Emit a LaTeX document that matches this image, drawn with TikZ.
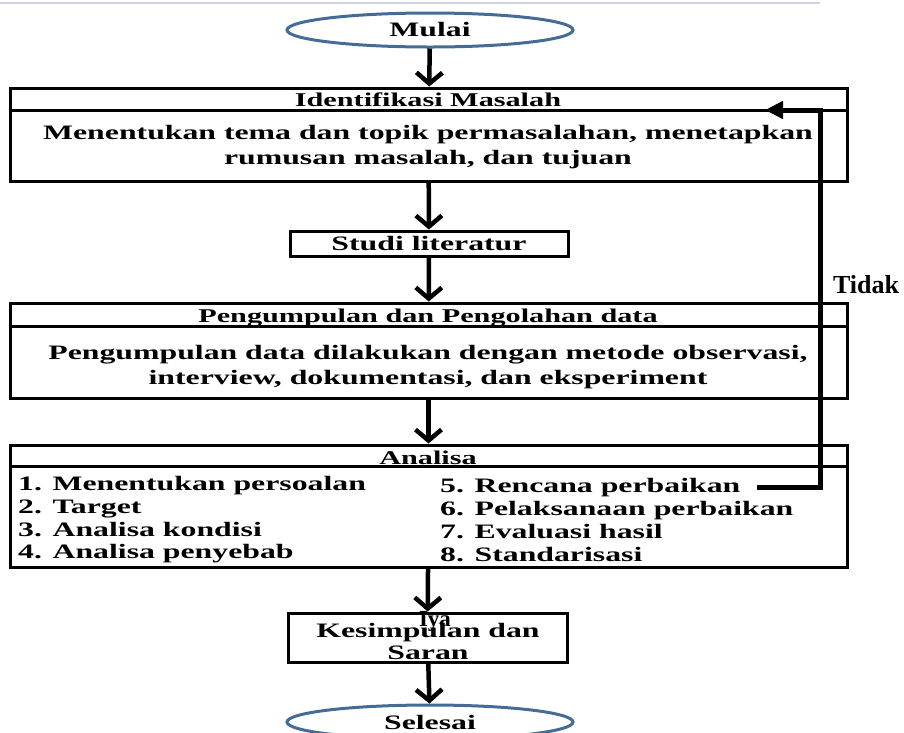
\documentclass[tikz,border=0pt]{standalone}
\usepackage{fontspec}
\setmainfont{Liberation Serif}
\newfontfamily\flowfont[FakeStretch=1.55]{Liberation Serif}
\usetikzlibrary{arrows.meta,shapes.geometric}
\definecolor{termblue}{RGB}{68,108,150}
\definecolor{edgegray}{RGB}{208,212,222}
\begin{document}
\begin{tikzpicture}[x=1pt,y=-1pt]
		\tikzset{box/.style = {draw, rectangle, line width=3pt, inner sep=0pt},
			term/.style = {draw=termblue, ellipse, line width=3pt, inner sep=0pt, minimum width=286pt, minimum height=34pt, font=\flowfont\bfseries\fontsize{20.5}{22}\selectfont},
			txt/.style = {inner sep=0pt, font=\flowfont\bfseries\fontsize{20.5}{25}\selectfont},
			head/.style = {inner sep=0pt, anchor=base, font=\flowfont\bfseries\fontsize{19.5}{22}\selectfont},
			list/.style = {txt, align=left, anchor=west, font=\flowfont\bfseries\fontsize{20.5}{22.7}\selectfont},
			flow/.style = {line width=4.5pt, -{Straight Barb[length=11pt,width=26pt,line width=4.5pt]}},
			feedback/.style = {line width=5pt, -{Triangle[length=18pt,width=17pt]}}}
		\useasboundingbox (0,0) rectangle (904,732);
		\draw[edgegray, line width=1.5pt] (0,3) -- (820,3);

		\node[term] (mulai) at (430,30) {Mulai};

		\node[box, minimum width=837pt, minimum height=93pt] (idm) at (428.5,134.5) {};
		\node[head] (idm_head) at (428,106) {Identifikasi Masalah};
		\node[txt, align=center] (idm_body) at (428,147) {Menentukan tema dan topik permasalahan, menetapkan\\rumusan masalah, dan tujuan};

		\node[box, minimum width=278pt, minimum height=25pt] (studi) at (429,243.5) {};
		\node[txt] (studi_text) at (429,244) {Studi literatur};

		\node[box, minimum width=837pt, minimum height=95pt] (data) at (428.5,350.5) {};
		\node[head] (data_head) at (428,322) {Pengumpulan dan Pengolahan data};
		\node[txt, align=center] (data_body) at (428,367) {Pengumpulan data dilakukan dengan metode observasi,\\interview, dokumentasi, dan eksperiment};

		\node[box, minimum width=837pt, minimum height=122pt] (analisa) at (428.5,506) {};
		\node[head] (analisa_head) at (428,464) {Analisa};
		\node[list] (analisa_left) at (18,520) {1. Menentukan persoalan\\2. Target\\3. Analisa kondisi\\4. Analisa penyebab};
		\node[list] (analisa_right) at (440,520) {5. Rencana perbaikan\\6. Pelaksanaan perbaikan\\7. Evaluasi hasil\\8. Standarisasi};

		\node[box, minimum width=279pt, minimum height=49pt] (kesimpulan) at (427.5,637.5) {};
		\node[txt, align=center, font=\flowfont\bfseries\fontsize{20.5}{22}\selectfont] (kesimpulan_text) at (428,641) {Kesimpulan dan\\Saran};

		\node[term] (selesai) at (430,722) {Selesai};

		\draw[line width=2.5pt] ([yshift=-24pt]idm.north west) -- ([yshift=-24pt]idm.north east);
		\draw[line width=2.5pt] ([yshift=-25pt]data.north west) -- ([yshift=-25pt]data.north east);
		\draw[line width=2.5pt] ([yshift=-23pt]analisa.north west) -- ([yshift=-23pt]analisa.north east);

		\draw[flow] (mulai) -- (idm);
		\draw[flow] (idm) -- (studi);
		\draw[flow] (studi) -- (data);
		\draw[flow] (data) -- (analisa);
		\draw[flow] (analisa) -- (kesimpulan);
		\draw[flow] (kesimpulan) -- (selesai);

		\coordinate (fb_start) at (757,487);
		\coordinate (fb_end) at (765,110);
		\draw[feedback] (fb_start) -- ++(63,0) |- (fb_end);

		% Iya sits on the box edge, as in the source
		\node[font=\bfseries\fontsize{23}{23}\selectfont, inner sep=0pt] (iya) at (435,621) {Iya};
		\node[font=\bfseries\fontsize{26}{26}\selectfont, inner sep=0pt] (tidak) at (866,285) {Tidak};

	\end{tikzpicture}
\end{document}
